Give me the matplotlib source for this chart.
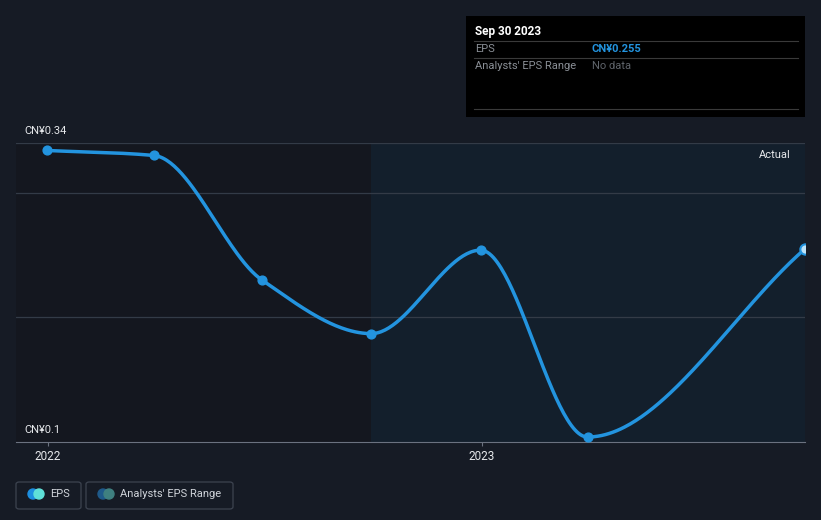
import numpy as np
import matplotlib
matplotlib.use("Agg")
import matplotlib.pyplot as plt
import matplotlib.dates as mdates
from matplotlib.patches import FancyBboxPatch, Rectangle, Ellipse

plt.rcParams['font.family'] = ['Roboto', 'DejaVu Sans']

# data
dates = ["2021-12-31", "2022-03-31", "2022-06-30", "2022-09-30",
         "2022-12-31", "2023-03-31", "2023-09-30"]
eps = [0.334, 0.330, 0.230, 0.187, 0.254, 0.104, 0.255]
y_ticks = [0.34, 0.1]
y_tick_labels = ["CN¥0.34", "CN¥0.1"]
x_ticks = ["2022-01-01", "2023-01-01"]
x_tick_labels = ["2022", "2023"]
forecast_start = "2022-09-30"

BG = "#161b25"
LINE = "#2394df"


def monotone(x, y, n=400):
    # monotone cubic (Fritsch-Carlson) for a smooth line through the points
    x = np.asarray(x, float); y = np.asarray(y, float)
    h = np.diff(x); d = np.diff(y) / h
    m = np.zeros_like(y)
    m[0], m[-1] = d[0], d[-1]
    for i in range(1, len(y) - 1):
        if d[i - 1] * d[i] <= 0:
            m[i] = 0
        else:
            w1 = 2 * h[i] + h[i - 1]; w2 = h[i] + 2 * h[i - 1]
            m[i] = (w1 + w2) / (w1 / d[i - 1] + w2 / d[i])
    xs = np.linspace(x[0], x[-1], n)
    idx = np.clip(np.searchsorted(x, xs) - 1, 0, len(h) - 1)
    t = (xs - x[idx]) / h[idx]
    h00 = 2*t**3 - 3*t**2 + 1; h10 = t**3 - 2*t**2 + t
    h01 = -2*t**3 + 3*t**2; h11 = t**3 - t**2
    ys = h00*y[idx] + h10*h[idx]*m[idx] + h01*y[idx+1] + h11*h[idx]*m[idx+1]
    return xs, ys


xd = mdates.datestr2num(dates)
fs = mdates.datestr2num(forecast_start)
xt = mdates.datestr2num(x_ticks)
left = xt[0] - 27
right = xd[-1]

fig = plt.figure(figsize=(8.21, 5.2), dpi=100, facecolor=BG)
ax = fig.add_axes([16/821, 78/520, 789/821, 299/520])
ax.set_facecolor(BG)
ax.set_xlim(left, right)
ax.set_ylim(0.1, 0.34)

ax.axvspan(left, fs, color="#14171f", zorder=0, lw=0)
ax.axvspan(fs, right, color="#131f2c", zorder=0, lw=0)

for g in [0.2, 0.3, 0.34]:
    ax.axhline(g, color="#333b47", lw=0.9, zorder=1)

xs, ys = monotone(xd, eps)
ax.plot(xs, ys, color=LINE, lw=2.5, zorder=3, solid_capstyle="round")
ax.scatter(xd[:-1], eps[:-1], s=40, color=LINE, zorder=4)
ax.scatter(xd[-1:], eps[-1:], s=55, facecolor="#bfe3f7", edgecolor=LINE, lw=1.5, zorder=4)

for s in ["top", "left", "right"]:
    ax.spines[s].set_visible(False)
ax.spines["bottom"].set_color("#6b7280")
ax.set_yticks([])
ax.set_xticks(xt)
ax.set_xticklabels(x_tick_labels, color="#e6e8eb", fontsize=8.5)
ax.tick_params(axis="x", length=3, color="#6b7280", pad=3)

for v, lab in zip(y_ticks, y_tick_labels):
    ax.annotate(lab, (0, v), xycoords=("axes fraction", "data"),
                xytext=(6, 5), textcoords="offset points",
                color="#e6e8eb", fontsize=8, va="bottom", ha="left")

ax.text(0.982, 0.96, "Actual", transform=ax.transAxes, color="#e6e8eb",
        fontsize=8, ha="right", va="center")

# tooltip box
fig.patches.append(Rectangle((466/821, 1 - 117/520), 339/821, 101/520,
                             transform=fig.transFigure, facecolor="black",
                             edgecolor="none", zorder=5))
for yy in [41, 58, 109]:
    fig.add_artist(plt.Line2D([474/821, 798/821], [1 - yy/520] * 2,
                              color="#3a3a3a", lw=0.8, zorder=6))
fig.text(475/821, 1 - 31/520, "Sep 30 2023", color="white", fontsize=8.5,
         fontweight="bold", va="center", zorder=7)
fig.text(475/821, 1 - 49/520, "EPS", color="#8a8f96", fontsize=8, va="center", zorder=7)
fig.text(592/821, 1 - 49/520, "CN¥0.255", color=LINE, fontsize=8,
         fontweight="bold", va="center", zorder=7)
fig.text(475/821, 1 - 66/520, "Analysts' EPS Range", color="#8a8f96", fontsize=8,
         va="center", zorder=7)
fig.text(592/821, 1 - 66/520, "No data", color="#5f646b", fontsize=8, va="center", zorder=7)

# legend
def legend_box(x0, x1, c1, c2, label):
    fig.patches.append(FancyBboxPatch((x0/821, 1 - 509/520), (x1 - x0)/821, 27/520,
                                      boxstyle="round,pad=0,rounding_size=0.004",
                                      transform=fig.transFigure, facecolor="none",
                                      edgecolor="#3d4450", lw=0.9))
    for dx, c in [(17, c1), (23, c2)]:
        fig.patches.append(Ellipse(((x0 + dx)/821, 1 - 494/520), 10/821, 10/520,
                                   transform=fig.transFigure, color=c))
    fig.text((x0 + 34)/821, 1 - 494/520, label, color="#d0d4da", fontsize=8,
             va="center")

legend_box(16, 81, "#1d8fe0", "#5fe0d8", "EPS")
legend_box(86, 233, "#1f5a8a", "#3f8080", "Analysts' EPS Range")

fig.savefig("out.png", dpi=100, facecolor=BG)
